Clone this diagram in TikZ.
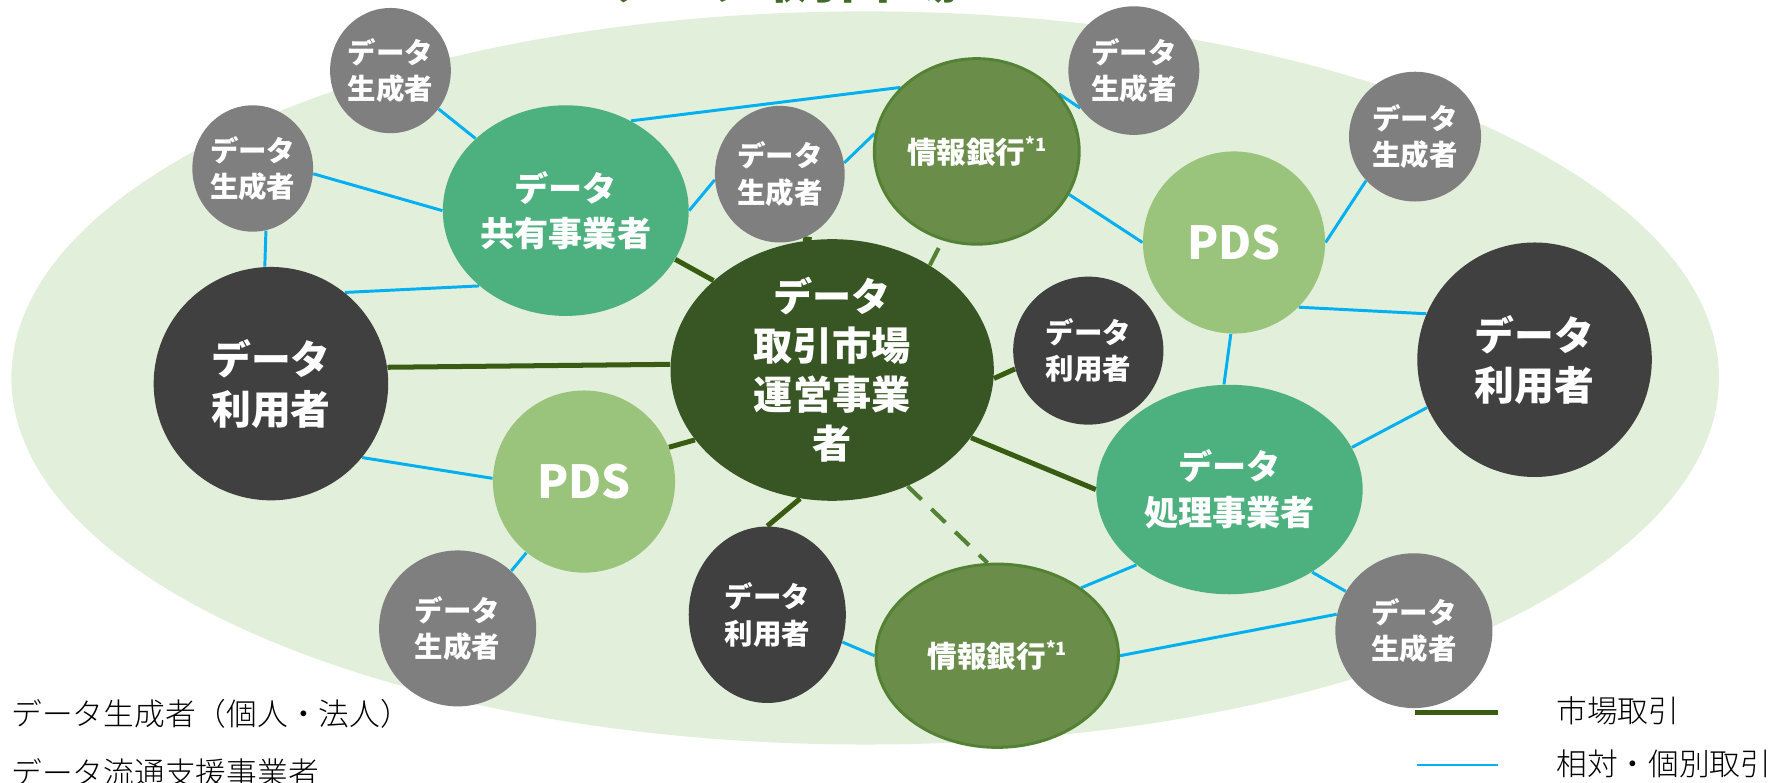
\documentclass[tikz,border=0pt]{standalone}
\usepackage{fontspec}
\setmainfont{Noto Sans CJK JP}
\IfFontExistsTF{Noto Sans CJK JP Light}
  {\newfontfamily\legfont{Noto Sans CJK JP Light}}
  {\newfontfamily\legfont{Noto Sans CJK JP}}
\usetikzlibrary{shapes.geometric}
\definecolor{bgreen}{HTML}{E2EFDA}
\definecolor{gnode}{HTML}{7F7F7F}
\definecolor{dnode}{HTML}{404040}
\definecolor{cnode}{HTML}{375623}
\definecolor{mnode}{HTML}{4DB07F}
\definecolor{lnode}{HTML}{9AC47C}
\definecolor{inode}{HTML}{6A8E4A}
\definecolor{iborder}{HTML}{548235}
\definecolor{mkt}{HTML}{375C12}
\definecolor{rel}{HTML}{00B0F0}
\definecolor{titlec}{HTML}{3F6B25}
\pgfdeclarelayer{bg}
\pgfdeclarelayer{edges}
\pgfsetlayers{bg,edges,main}
\newcommand\txtS{\fontsize{12.5}{16}\selectfont\bfseries}
\newcommand\txtB{\fontsize{17.5}{22}\selectfont\bfseries}
\newcommand\txtC{\fontsize{17.2}{21.5}\selectfont\bfseries}
\newcommand\txtM{\fontsize{15}{20}\selectfont\bfseries}
\newcommand\txtP{\fontsize{20}{24}\selectfont\bfseries}
\newcommand\txtI{\fontsize{13}{16}\selectfont\bfseries}
\newcommand\txtL{\legfont\fontsize{13.5}{16}\selectfont}
\newcommand\supone{\raisebox{0.42em}{\fontsize{8}{8}\selectfont *1}}
\tikzset{
  ent/.style={ellipse, inner sep=0pt, text=white, align=center},
  wh/.style 2 args={minimum width=#1pt, minimum height=#2pt},
  gen/.style={ent, fill=gnode, font=\txtS},
  usr/.style={ent, fill=dnode, font=\txtS},
  busr/.style={ent, fill=dnode, font=\txtB},
  mid/.style={ent, fill=mnode, font=\txtM},
  pds/.style={ent, fill=lnode, font=\txtP},
  bank/.style={ent, fill=inode, draw=iborder, line width=1.3pt, font=\txtI},
  core/.style={ent, fill=cnode, font=\txtC},
  reledge/.style={draw=rel, line width=1.3pt},
  mktedge/.style={draw=mkt, line width=2.2pt},
  dashedge/.style={draw=iborder, line width=1.8pt, dash pattern=on 8.5pt off 6pt},
  legtext/.style={anchor=base west, font=\txtL, text=black},
}
\begin{document}
\begin{tikzpicture}[x=0.5pt, y=-0.5pt]
\useasboundingbox (0,0) rectangle (1568,687);
\begin{pgfonlayer}{bg}
\fill[bgreen] (760,332) ellipse [x radius=750, y radius=322];
\end{pgfonlayer}
\node[anchor=base west, text=titlec, font=\fontsize{22}{22}\selectfont\bfseries] (title) at (527,-1) {データ取引市場};
% nodes
\node[core, wh={142}{105}] (n1) at (731,325) {データ\\取引市場\\運営事業\\者};
\node[gen, wh={50}{55}] (n2) at (343,62) {データ\\生成者};
\node[gen, wh={48}{55.5}] (n3) at (222,148) {データ\\生成者};
\node[mid, wh={108}{92.5}] (n4) at (497,185) {データ\\共有事業者};
\node[gen, wh={57}{60}] (n5) at (685,153) {データ\\生成者};
\node[bank, wh={90}{81.5}] (n6) at (858,133) {情報銀行\supone};
\node[gen, wh={57.5}{56.5}] (n7) at (996,62) {データ\\生成者};
\node[gen, wh={58}{57}] (n8) at (1243,120) {データ\\生成者};
\node[pds, wh={80}{80}] (n9) at (1084,213) {PDS};
\node[busr, wh={103}{103}] (n10) at (1348,316) {データ\\利用者};
\node[usr, wh={66}{65}] (n11) at (956,308) {データ\\利用者};
\node[mid, wh={117}{92}] (n12) at (1080,430) {データ\\処理事業者};
\node[gen, wh={69}{68}] (n13) at (1242,554) {データ\\生成者};
\node[bank, wh={106.5}{80.5}] (n14) at (876,576) {情報銀行\supone};
\node[usr, wh={69}{77.5}] (n15) at (674,540) {データ\\利用者};
\node[gen, wh={69}{68.5}] (n16) at (402,552) {データ\\生成者};
\node[pds, wh={80}{80}] (n17) at (513,423) {PDS};
\node[busr, wh={103}{102.5}] (n18) at (238,337) {データ\\利用者};
% edges
\begin{pgfonlayer}{edges}
\draw[reledge] (n2) -- (n4);
\draw[reledge] (n3.-5) -- (n4.180);
\draw[reledge] (n3.-78) -- (n18.93);
\draw[reledge] (n18.51) -- (n4.221);
\draw[reledge] (n4.54) -- (n6.140);
\draw[reledge] (n4.0) -- (n5.185);
\draw[reledge] (n5.10) -- (n6.170);
\draw[reledge] (n6.35) -- (n7.215);
\draw[reledge] (n6.-25) -- (n9.180);
\draw[reledge] (n9.0) -- (n8.222);
\draw[reledge] (n9.-45) -- (n10.157);
\draw[reledge] (n9.268) -- (n12.93);
\draw[reledge] (n12.19) -- (n10.204);
\draw[reledge] (n14.39) -- (n12.219);
\draw[reledge] (n12.-45) -- (n13.150);
\draw[reledge] (n14.0) -- (n13.168);
\draw[reledge] (n15.-20) -- (n14.180);
\draw[reledge] (n18.-39) -- (n17.178);
\draw[reledge] (n16.47) -- (n17.231);
\draw[mktedge] (n18.8) -- (n1.178);
\draw[mktedge] (n4.-24) -- (n1.143);
\draw[mktedge] (n5.-70) -- (n1.99);
\draw[mktedge] (n1.-3) -- (n11.194);
\draw[mktedge] (n1.-26) -- (n12.180);
\draw[mktedge] (n1.256) -- (n15.90);
\draw[mktedge] (n17.22) -- (n1.207);
\draw[dashedge] (n1.47) -- (n6.249);
\draw[dashedge] (n1.-57) -- (n14.96);
\end{pgfonlayer}
% legend
\node[legtext] (lg1) at (3,637) {データ生成者（個人・法人）};
\node[legtext] (lg2) at (3,689) {データ流通支援事業者};
\coordinate (m1) at (1243,626);
\coordinate (m2) at (1316,626);
\draw[mktedge, line width=2.3pt] (m1) -- (m2);
\node[legtext] (lm) at (1360,635) {市場取引};
\coordinate (r1) at (1245,672);
\coordinate (r2) at (1316,672);
\draw[reledge] (r1) -- (r2);
\node[legtext] (lr) at (1360,681) {相対・個別取引};
\end{tikzpicture}
\end{document}
